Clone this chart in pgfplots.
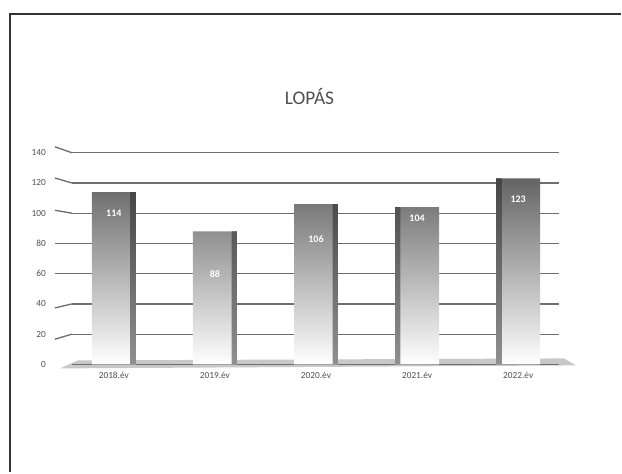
\documentclass[border=0pt]{standalone}
\usepackage{fontspec}
\setmainfont{Carlito}
\usepackage{pgfplots}
\usepackage{pgfplotstable}
\pgfplotsset{compat=1.18}

\definecolor{gridgray}{RGB}{110,110,110}
\definecolor{txtgray}{RGB}{80,80,80}
\definecolor{bartop}{RGB}{100,100,100}
\definecolor{barmid}{RGB}{155,155,155}
\definecolor{barside}{RGB}{70,70,70}
\definecolor{floorgray}{RGB}{200,200,200}

% x = year index, y = value, ly = height of the label inside the bar
\pgfplotstableread{
x y   ly
0 114 100
1 88  60
2 106 83
3 104 97
4 123 109
}\lopas

\begin{document}
\begin{tikzpicture}
  % page = 622 x 473 px, 1 px = 0.75pt
  \path (0,0) rectangle (466.5pt,354.75pt);
  % scanned frame
  \draw[line width=1.5pt, black!80] (7.5pt,0pt) -- (7.5pt,344.25pt) -- (466.5pt,344.25pt);
  % title
  \node[text=txtgray, font=\fontsize{14.5}{16}\selectfont] at (232.5pt,282pt) {LOPÁS};
  % floor
  \fill[floorgray] (45pt,78pt) -- (58.5pt,84pt) -- (423.75pt,85.5pt) -- (432.75pt,80.25pt) -- cycle;
  % slanted left ends of the grid lines (3d perspective)
  \foreach \v/\o in {140/6,120/5,100/3,80/0,60/0,40/-4,20/-5}
    \draw[gridgray, line width=1pt] ({41.25pt},{(81+\v*1.135714+0.75*\o)*1pt}) -- ({54pt},{(81+\v*1.135714)*1pt});

  \begin{axis}[
    at={(54pt,81pt)}, anchor=south west,
    scale only axis, width=366pt, height=159pt,
    xmin=-0.415, xmax=4.405, ymin=0, ymax=140,
    ytick={0,20,...,140},
    xtick={0,1,2,3,4},
    xticklabels={2018.év,2019.év,2020.év,2021.év,2022.év},
    axis line style={draw=none},
    major tick length=0pt,
    ymajorgrids, grid style={gridgray, line width=1pt},
    tick label style={text=txtgray, font=\fontsize{7}{8}\selectfont},
    yticklabel style={xshift=-16pt},
    xticklabel style={yshift=-2pt},
    /pgf/number format/assume math mode=true,
    ybar, bar width=33pt,
    clip=false,
  ]
    \addplot[draw=none, top color=bartop, middle color=barmid, bottom color=white, bar shift=0pt]
      table[x=x, y=y] {\lopas};
    % dark side faces of the bars
    \addplot[draw=none, top color=barside, bottom color=barside!60, bar width=4pt, bar shift=14.5pt]
      table[x=x, y=y, restrict expr to domain={\thisrow{x}}{0:2}] {\lopas};
    \addplot[draw=none, top color=barside, bottom color=barside!60, bar width=4pt, bar shift=-14.5pt]
      table[x=x, y=y, restrict expr to domain={\thisrow{x}}{3:4}] {\lopas};
    % value labels
    \addplot[draw=none, mark=none, only marks, nodes near coords, point meta=explicit symbolic,
      every node near coord/.append style={white, font=\fontsize{7.5}{8}\bfseries, anchor=center}]
      table[x=x, y=ly, meta=y] {\lopas};
  \end{axis}
\end{tikzpicture}
\end{document}
